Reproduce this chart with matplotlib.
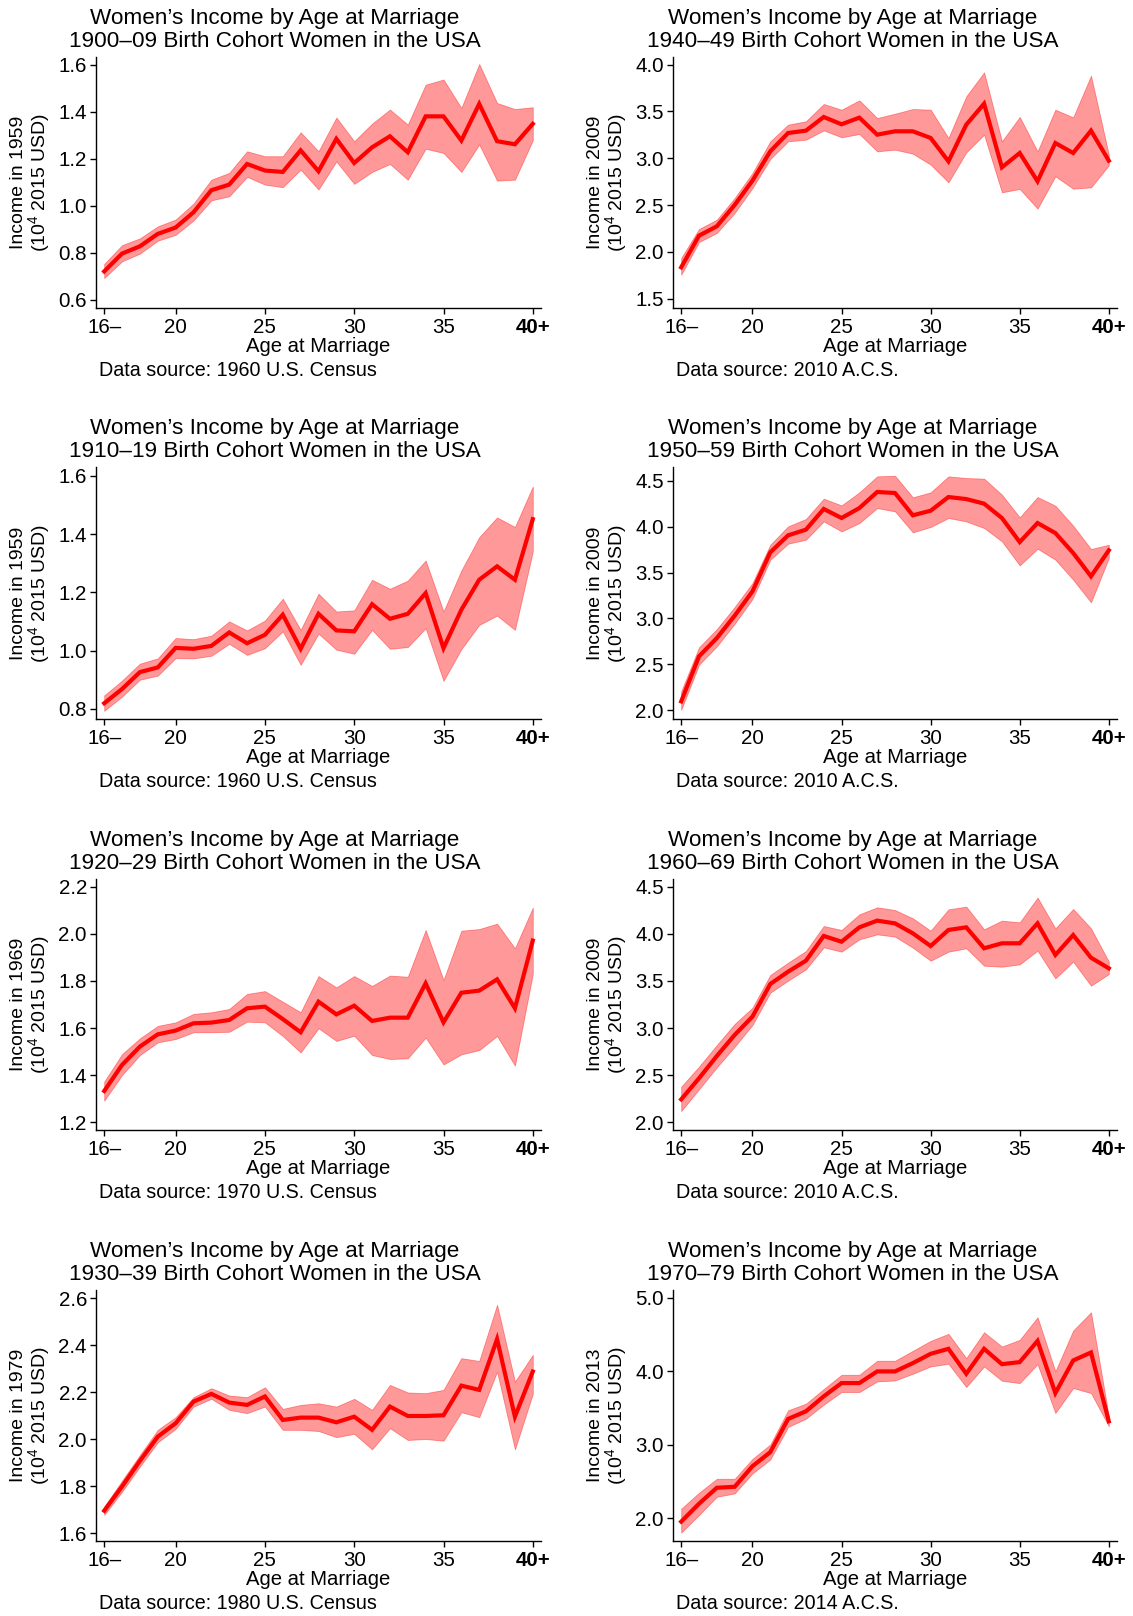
import matplotlib
matplotlib.use("Agg")
import matplotlib.pyplot as plt
import numpy as np

plt.rcParams['font.family'] = ['Liberation Sans', 'DejaVu Sans']
plt.rcParams['mathtext.fontset'] = 'custom'
plt.rcParams['mathtext.rm'] = 'Liberation Sans'
plt.rcParams['mathtext.default'] = 'regular'

ages = np.arange(16, 41)
xtick_vals = [16, 20, 25, 30, 35, 40]
xtick_labels = ["16\u2013", "20", "25", "30", "35", "40+"]

# 1900-09 cohort, 1960 census
m1900 = [0.720, 0.796, 0.827, 0.880, 0.907, 0.972, 1.066, 1.090, 1.178, 1.150, 1.144, 1.236, 1.147,
         1.285, 1.182, 1.249, 1.296, 1.228, 1.381, 1.381, 1.278, 1.434, 1.275, 1.262, 1.349]
hi1900 = [0.752, 0.832, 0.861, 0.912, 0.941, 1.009, 1.111, 1.140, 1.232, 1.211, 1.211, 1.313, 1.232,
          1.376, 1.275, 1.350, 1.410, 1.346, 1.516, 1.538, 1.417, 1.604, 1.438, 1.412, 1.420]
lo1900 = [0.692, 0.763, 0.796, 0.851, 0.876, 0.937, 1.023, 1.040, 1.123, 1.090, 1.079, 1.154, 1.069,
          1.189, 1.093, 1.144, 1.178, 1.111, 1.243, 1.225, 1.144, 1.261, 1.107, 1.111, 1.279]

# 1910-19 cohort, 1960 census
m1910 = [0.819, 0.868, 0.926, 0.942, 1.009, 1.006, 1.016, 1.062, 1.025, 1.054, 1.123, 1.006, 1.126,
         1.069, 1.066, 1.159, 1.109, 1.126, 1.197, 1.008, 1.140, 1.243, 1.289, 1.243, 1.451]
hi1910 = [0.846, 0.897, 0.955, 0.973, 1.043, 1.039, 1.051, 1.100, 1.069, 1.103, 1.178, 1.071, 1.195,
          1.134, 1.138, 1.243, 1.212, 1.240, 1.309, 1.134, 1.275, 1.389, 1.457, 1.424, 1.563]
lo1910 = [0.793, 0.842, 0.900, 0.914, 0.974, 0.973, 0.982, 1.023, 0.985, 1.008, 1.066, 0.951, 1.058,
          1.003, 0.989, 1.071, 1.006, 1.012, 1.077, 0.896, 1.005, 1.088, 1.120, 1.071, 1.340]

# 1920-29 cohort, 1970 census
m1920 = [1.332, 1.443, 1.521, 1.573, 1.589, 1.620, 1.623, 1.634, 1.684, 1.691, 1.638, 1.582, 1.712,
         1.658, 1.695, 1.630, 1.644, 1.644, 1.790, 1.624, 1.750, 1.759, 1.807, 1.684, 1.972]
hi1920 = [1.372, 1.489, 1.556, 1.609, 1.624, 1.660, 1.667, 1.681, 1.745, 1.757, 1.712, 1.667, 1.821,
          1.773, 1.821, 1.779, 1.823, 1.818, 2.017, 1.804, 2.014, 2.021, 2.044, 1.939, 2.112]
lo1920 = [1.291, 1.400, 1.485, 1.539, 1.553, 1.582, 1.582, 1.584, 1.627, 1.624, 1.566, 1.496, 1.599,
          1.545, 1.567, 1.485, 1.468, 1.471, 1.559, 1.445, 1.488, 1.506, 1.566, 1.440, 1.830]

# 1930-39 cohort, 1980 census
m1930 = [1.696, 1.799, 1.908, 2.011, 2.068, 2.160, 2.193, 2.156, 2.146, 2.182, 2.082, 2.092, 2.092,
         2.072, 2.096, 2.040, 2.139, 2.099, 2.099, 2.102, 2.228, 2.210, 2.426, 2.096, 2.288]
hi1930 = [1.713, 1.824, 1.933, 2.040, 2.094, 2.179, 2.217, 2.186, 2.179, 2.221, 2.129, 2.146, 2.153,
          2.139, 2.172, 2.125, 2.231, 2.199, 2.196, 2.210, 2.345, 2.333, 2.572, 2.245, 2.359]
lo1930 = [1.678, 1.777, 1.884, 1.987, 2.044, 2.139, 2.172, 2.125, 2.111, 2.139, 2.040, 2.040, 2.035,
          2.009, 2.023, 1.957, 2.047, 1.997, 2.001, 1.994, 2.115, 2.094, 2.288, 1.957, 2.193]

# 1940-49 cohort, 2010 ACS
m1940 = [1.835, 2.173, 2.273, 2.501, 2.761, 3.074, 3.270, 3.295, 3.441, 3.363, 3.434, 3.252, 3.288,
         3.288, 3.217, 2.967, 3.359, 3.583, 2.903, 3.056, 2.754, 3.163, 3.056, 3.295, 2.974]
hi1940 = [1.935, 2.244, 2.344, 2.575, 2.843, 3.181, 3.359, 3.395, 3.580, 3.519, 3.619, 3.430, 3.476,
          3.526, 3.519, 3.217, 3.662, 3.918, 3.181, 3.441, 3.074, 3.519, 3.437, 3.882, 3.038]
lo1940 = [1.756, 2.105, 2.202, 2.415, 2.682, 2.992, 3.181, 3.199, 3.298, 3.224, 3.259, 3.074, 3.092,
          3.049, 2.932, 2.743, 3.063, 3.252, 2.636, 2.672, 2.462, 2.807, 2.675, 2.689, 2.925]

# 1950-59 cohort, 2010 ACS
m1950 = [2.098, 2.588, 2.787, 3.030, 3.295, 3.720, 3.905, 3.967, 4.192, 4.094, 4.202, 4.377, 4.366,
         4.123, 4.173, 4.322, 4.300, 4.250, 4.094, 3.832, 4.039, 3.930, 3.713, 3.459, 3.742]
hi1950 = [2.207, 2.686, 2.885, 3.125, 3.386, 3.803, 4.003, 4.083, 4.304, 4.231, 4.373, 4.547, 4.554,
          4.319, 4.373, 4.547, 4.529, 4.522, 4.348, 4.101, 4.322, 4.228, 4.010, 3.756, 3.803]
lo1950 = [2.007, 2.497, 2.697, 2.943, 3.212, 3.640, 3.814, 3.858, 4.057, 3.948, 4.039, 4.202, 4.166,
          3.938, 3.996, 4.094, 4.057, 3.985, 3.840, 3.578, 3.760, 3.640, 3.422, 3.176, 3.658]

# 1960-69 cohort, 2010 ACS
m1960 = [2.241, 2.465, 2.702, 2.926, 3.121, 3.468, 3.599, 3.716, 3.979, 3.918, 4.071, 4.142, 4.113,
         4.007, 3.872, 4.043, 4.071, 3.848, 3.901, 3.901, 4.113, 3.777, 3.989, 3.748, 3.635]
hi1960 = [2.376, 2.589, 2.819, 3.043, 3.216, 3.564, 3.695, 3.819, 4.085, 4.043, 4.209, 4.284, 4.255,
          4.167, 4.035, 4.262, 4.291, 4.050, 4.142, 4.124, 4.387, 4.060, 4.266, 4.060, 3.706]
lo1960 = [2.117, 2.348, 2.582, 2.801, 3.032, 3.376, 3.504, 3.624, 3.858, 3.812, 3.943, 3.996, 3.972,
          3.855, 3.716, 3.812, 3.848, 3.663, 3.652, 3.677, 3.823, 3.528, 3.706, 3.450, 3.574]

# 1970-79 cohort, 2014 ACS
m1970 = [1.951, 2.195, 2.413, 2.426, 2.707, 2.898, 3.351, 3.455, 3.659, 3.840, 3.840, 3.999, 3.999,
         4.112, 4.239, 4.307, 3.967, 4.307, 4.098, 4.126, 4.415, 3.704, 4.148, 4.257, 3.319]
hi1970 = [2.127, 2.345, 2.535, 2.535, 2.807, 3.002, 3.469, 3.559, 3.759, 3.953, 3.953, 4.144, 4.144,
          4.280, 4.415, 4.511, 4.180, 4.533, 4.338, 4.429, 4.737, 3.999, 4.556, 4.805, 3.387]
lo1970 = [1.801, 2.041, 2.290, 2.336, 2.608, 2.798, 3.242, 3.355, 3.546, 3.718, 3.718, 3.863, 3.876,
          3.967, 4.067, 4.103, 3.786, 4.067, 3.872, 3.840, 4.098, 3.432, 3.772, 3.704, 3.251]

cohorts = ["1900\u201309", "1910\u201319", "1920\u201329", "1930\u201339",
           "1940\u201349", "1950\u201359", "1960\u201369", "1970\u201379"]
income_years = ["1959", "1959", "1969", "1979", "2009", "2009", "2009", "2013"]
sources = ["1960 U.S. Census", "1960 U.S. Census", "1970 U.S. Census", "1980 U.S. Census",
           "2010 A.C.S.", "2010 A.C.S.", "2010 A.C.S.", "2014 A.C.S."]
means = [m1900, m1910, m1920, m1930, m1940, m1950, m1960, m1970]
highs = [hi1900, hi1910, hi1920, hi1930, hi1940, hi1950, hi1960, hi1970]
lows = [lo1900, lo1910, lo1920, lo1930, lo1940, lo1950, lo1960, lo1970]

# axis settings per panel
ylims = [(0.564, 1.634), (0.765, 1.630), (1.166, 2.234), (1.567, 2.635),
         (1.40, 4.082), (1.906, 4.649), (1.915, 4.585), (1.687, 5.109)]
yticks = [np.arange(0.6, 1.61, 0.2), np.arange(0.8, 1.61, 0.2), np.arange(1.2, 2.21, 0.2),
          np.arange(1.6, 2.61, 0.2), np.arange(1.5, 4.01, 0.5), np.arange(2.0, 4.51, 0.5),
          np.arange(2.0, 4.51, 0.5), np.arange(2.0, 5.01, 1.0)]

W, H = 1133, 1616
fig = plt.figure(figsize=(W / 100, H / 100), dpi=100)

col_left = [96, 673]
col_right = [541, 1117]
title_cx = [275, 853]
row_top = [57, 467, 879, 1290]
row_bot = [308, 719, 1130, 1541]


def fx(x):
    return x / W


def fy(y):
    return 1 - y / H


for i in range(8):
    c, r = i // 4, i % 4
    l, rt, t, b = col_left[c], col_right[c], row_top[r], row_bot[r]
    ax = fig.add_axes([fx(l), fy(b), (rt - l) / W, (b - t) / H])
    ax.fill_between(ages, lows[i], highs[i], color='red', alpha=0.4, linewidth=0.6)
    ax.plot(ages, means[i], color='red', lw=3.0, solid_joinstyle='miter')
    ax.set_xlim(15.54, 40.46)
    ax.set_ylim(*ylims[i])
    ax.set_xticks(xtick_vals)
    ax.set_xticklabels(xtick_labels)
    ax.get_xticklabels()[-1].set_fontweight('bold')
    ax.set_yticks(yticks[i])
    ax.set_yticklabels(["%.1f" % v for v in yticks[i]])
    for s in ['top', 'right']:
        ax.spines[s].set_visible(False)
    for s in ['left', 'bottom']:
        ax.spines[s].set_linewidth(1.0)
    ax.tick_params(direction='out', length=4, width=1.0, labelsize=14.8, pad=2.5)
    ax.tick_params(axis='x', pad=3.5)

    fig.text(fx(title_cx[c]), fy(t - 33), "Women\u2019s Income by Age at Marriage",
             ha='center', va='baseline', fontsize=16.2)
    fig.text(fx(title_cx[c]), fy(t - 10), cohorts[i] + " Birth Cohort Women in the USA",
             ha='center', va='baseline', fontsize=16.2)
    fig.text(fx((l + rt) / 2), fy(b + 44), "Age at Marriage", ha='center', va='baseline', fontsize=14.6)
    fig.text(fx(l + 3), fy(b + 68), "Data source: " + sources[i], ha='left', va='baseline', fontsize=14.2)
    yc = (t + b) / 2
    fig.text(fx(l - 77), fy(yc), "Income in " + income_years[i], rotation=90,
             ha='center', va='center', fontsize=14)
    fig.text(fx(l - 57), fy(yc), "(10$^4$ 2015 USD)", rotation=90,
             ha='center', va='center', fontsize=14)

fig.savefig("out.png", dpi=100)
